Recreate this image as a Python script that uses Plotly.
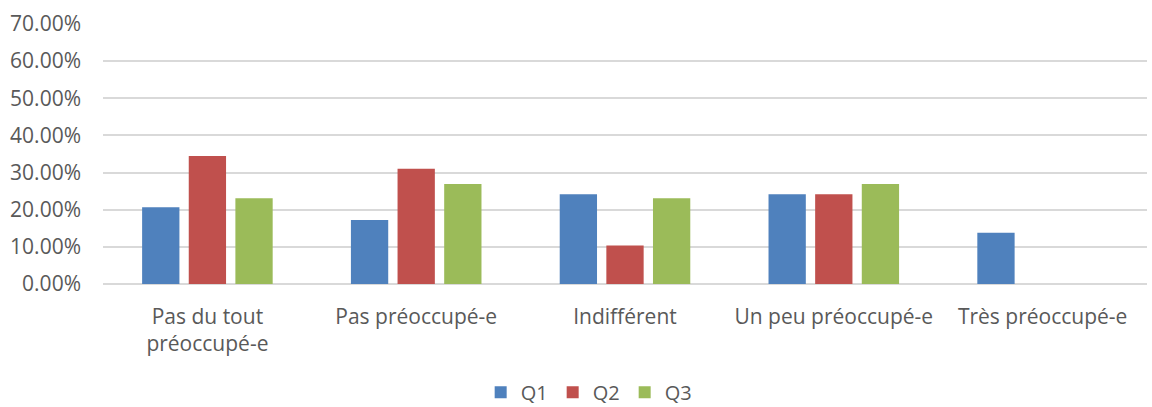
import plotly.graph_objects as go

# Response categories (x axis)
categories = [
    "Pas du tout<br>préoccupé-e",
    "Pas préoccupé-e",
    "Indifférent",
    "Un peu préoccupé-e",
    "Très préoccupé-e",
]

# Share of answers per question
q1 = [6 / 29, 5 / 29, 7 / 29, 7 / 29, 4 / 29]
q2 = [10 / 29, 9 / 29, 3 / 29, 7 / 29, 0.0]
q3 = [6 / 26, 7 / 26, 6 / 26, 7 / 26, 0.0]

series_names = ["Q1", "Q2", "Q3"]
series_colors = ["#4F81BD", "#C0504D", "#9BBB59"]

y_ticks = [0, 0.1, 0.2, 0.3, 0.4, 0.5, 0.6, 0.7]

font_family = "Open Sans, Liberation Sans, sans-serif"
text_color = "#595959"
grid_color = "#D9D9D9"

fig = go.Figure()
for name, values, color in zip(series_names, [q1, q2, q3], series_colors):
    fig.add_trace(
        go.Bar(
            name=name,
            x=categories,
            y=values,
            marker=dict(color=color, line=dict(width=0)),
        )
    )

fig.update_layout(
    width=1152,
    height=407,
    margin=dict(l=103, r=5, t=24, b=123, autoexpand=False),
    paper_bgcolor="white",
    plot_bgcolor="white",
    barmode="group",
    bargap=0.33,
    bargroupgap=0.2,
    font=dict(family=font_family, size=21, color=text_color),
    showlegend=True,
    legend=dict(
        orientation="h",
        xref="container",
        x=0.511,
        xanchor="center",
        yref="container",
        y=0.036,
        yanchor="middle",
        font=dict(size=20, color=text_color),
        itemwidth=30,
        traceorder="normal",
    ),
    xaxis=dict(
        showgrid=False,
        showline=False,
        ticks="",
        tickfont=dict(size=21, color=text_color),
        ticklabelstandoff=18,
    ),
    yaxis=dict(
        range=[0, 0.7],
        tickvals=y_ticks,
        tickformat=".2%",
        showgrid=True,
        gridcolor=grid_color,
        gridwidth=1.5,
        zeroline=True,
        zerolinecolor=grid_color,
        zerolinewidth=1.5,
        showline=False,
        ticks="",
        tickfont=dict(size=21, color=text_color),
        ticklabelstandoff=21,
    ),
)

fig.write_html("out.html")
